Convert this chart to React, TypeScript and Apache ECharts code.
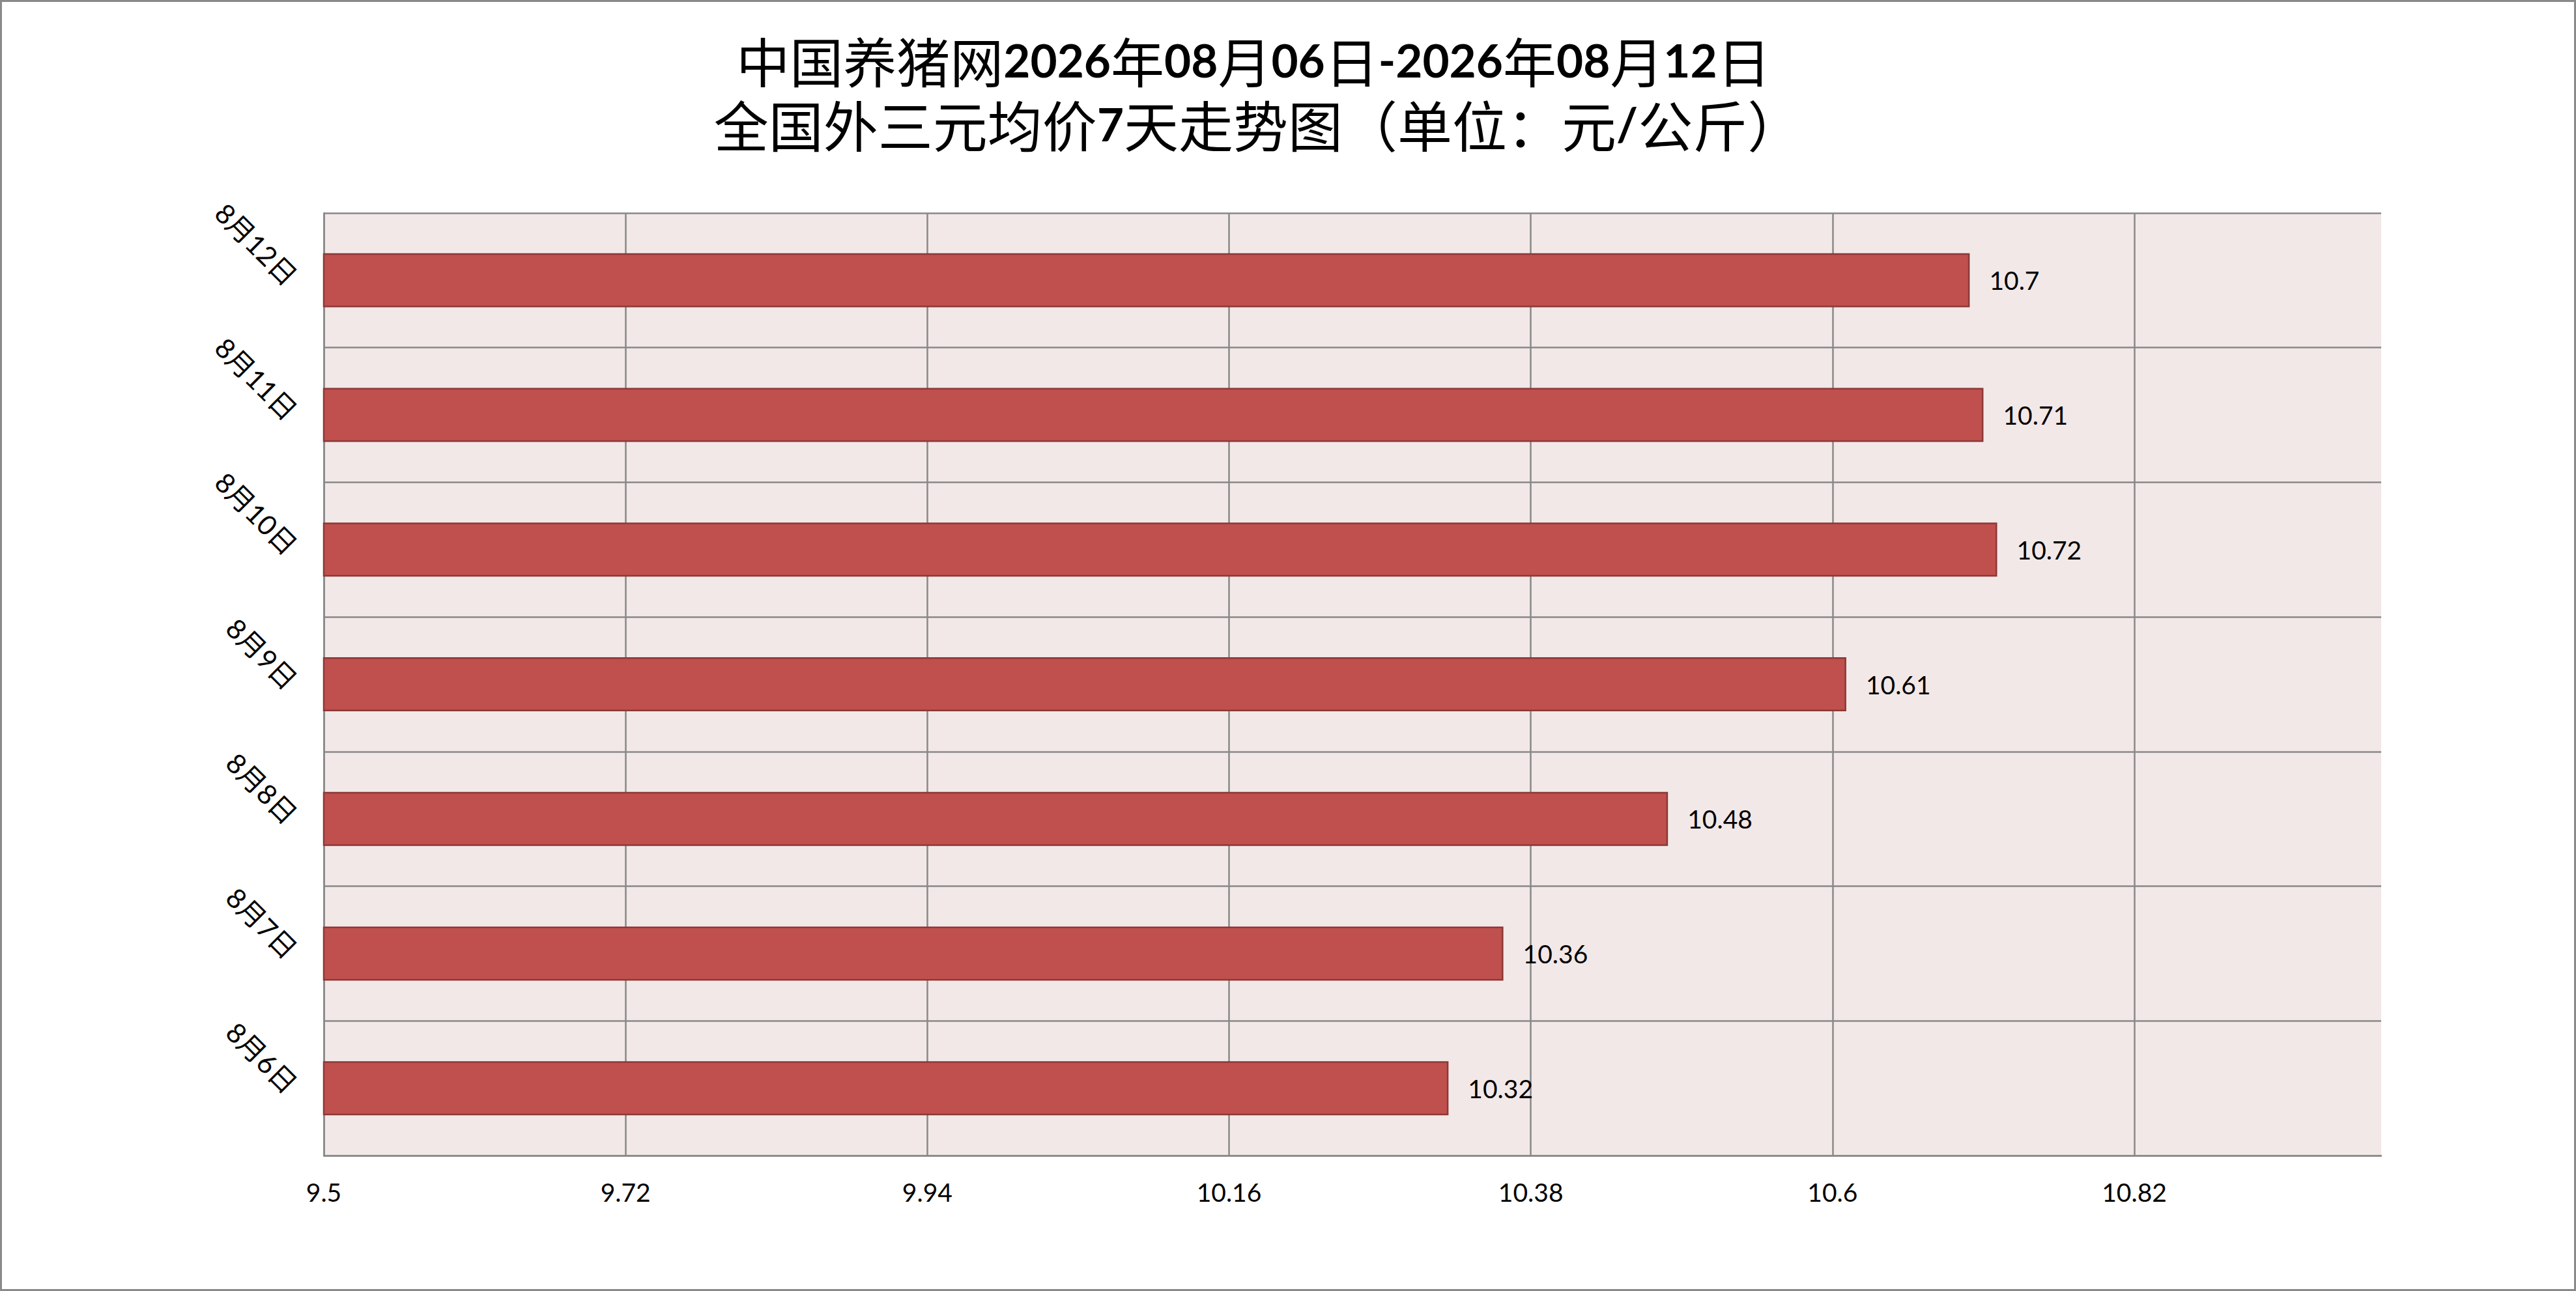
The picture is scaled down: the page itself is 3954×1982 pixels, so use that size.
import React, { useEffect, useRef } from "react";
import * as echarts from "echarts";

const categories = ["8月6日", "8月7日", "8月8日", "8月9日", "8月10日", "8月11日", "8月12日"];
const values = [10.32, 10.36, 10.48, 10.61, 10.72, 10.71, 10.7];
const xMin = 9.5;
const xMax = 11;
const xInterval = 0.22;
const titleLines = [
  "中国养猪网2026年08月06日-2026年08月12日",
  "全国外三元均价7天走势图（单位：元/公斤）",
];

const W = 3954;
const H = 1982;
const FONT = "Lato, 'Noto Sans CJK SC', sans-serif";

function toRich(s: string): string {
  const parts = s.match(/[\x00-\x7F]+|[^\x00-\x7F]+/g) || [];
  return parts.map((p) => (/^[\x00-\x7F]+$/.test(p) ? `{b|${p}}` : `{c|${p}}`)).join("");
}

function richTitle(cjkSize: number) {
  return {
    b: { fontFamily: "Lato, sans-serif", fontWeight: 700, fontSize: 71, fill: "#000", color: "#000" },
    c: { fontFamily: "'Noto Sans CJK SC', sans-serif", fontWeight: 400, fontSize: cjkSize, fill: "#000", color: "#000" },
  };
}

export default function App() {
  const ref = useRef<HTMLDivElement>(null);
  useEffect(() => {
    if (!ref.current) return;
    const chart = echarts.init(ref.current, undefined, { renderer: "svg" });
    const gridLineColor = "#898989";
    chart.setOption({
      animation: false,
      backgroundColor: "#ffffff",
      grid: {
        left: 497,
        right: 299,
        top: 327,
        bottom: 208,
        show: true,
        backgroundColor: "#F2E8E8",
        borderWidth: 0,
      },
      xAxis: {
        type: "value",
        min: xMin,
        max: xMax,
        interval: xInterval,
        axisLine: { show: true, lineStyle: { color: gridLineColor, width: 2.5 } },
        axisTick: { show: false },
        axisLabel: {
          show: true,
          showMaxLabel: false,
          margin: 36,
          fontFamily: FONT,
          fontSize: 39,
          color: "#000",
        },
        splitLine: {
          show: true,
          showMaxLine: false,
          lineStyle: { color: gridLineColor, width: 2.5 },
        },
      },
      yAxis: {
        type: "category",
        data: categories,
        axisLine: { show: true, lineStyle: { color: gridLineColor, width: 2.5 } },
        axisTick: { show: false },
        axisLabel: {
          rotate: -45,
          margin: 48,
          fontFamily: FONT,
          fontSize: 42,
          color: "#000",
        },
        splitLine: { show: true, lineStyle: { color: gridLineColor, width: 2.5 } },
      },
      series: [
        {
          type: "bar",
          data: values,
          barWidth: 83,
          itemStyle: { color: "#C0504D", borderColor: "#8C3836", borderWidth: 2.5 },
          label: {
            show: true,
            position: "right",
            distance: 30,
            fontFamily: FONT,
            fontSize: 39,
            color: "#000",
          },
        },
      ],
      graphic: [
        {
          type: "rect",
          shape: { x: 1.5, y: 1.5, width: W - 3, height: H - 3 },
          style: { fill: "none", stroke: "#8a8a8a", lineWidth: 3 },
          silent: true,
        },
        {
          type: "text",
          x: 1924,
          y: 91,
          style: {
            text: toRich(titleLines[0]),
            rich: richTitle(82),
            align: "center",
            verticalAlign: "middle",
          },
        },
        {
          type: "text",
          x: 1931,
          y: 189,
          style: {
            text: toRich(titleLines[1]),
            rich: richTitle(84),
            align: "center",
            verticalAlign: "middle",
          },
        },
      ],
    });
    return () => chart.dispose();
  }, []);
  return (
    <div
      ref={ref}
      style={{ position: "fixed", left: 0, top: 0, width: W, height: H }}
    />
  );
}
